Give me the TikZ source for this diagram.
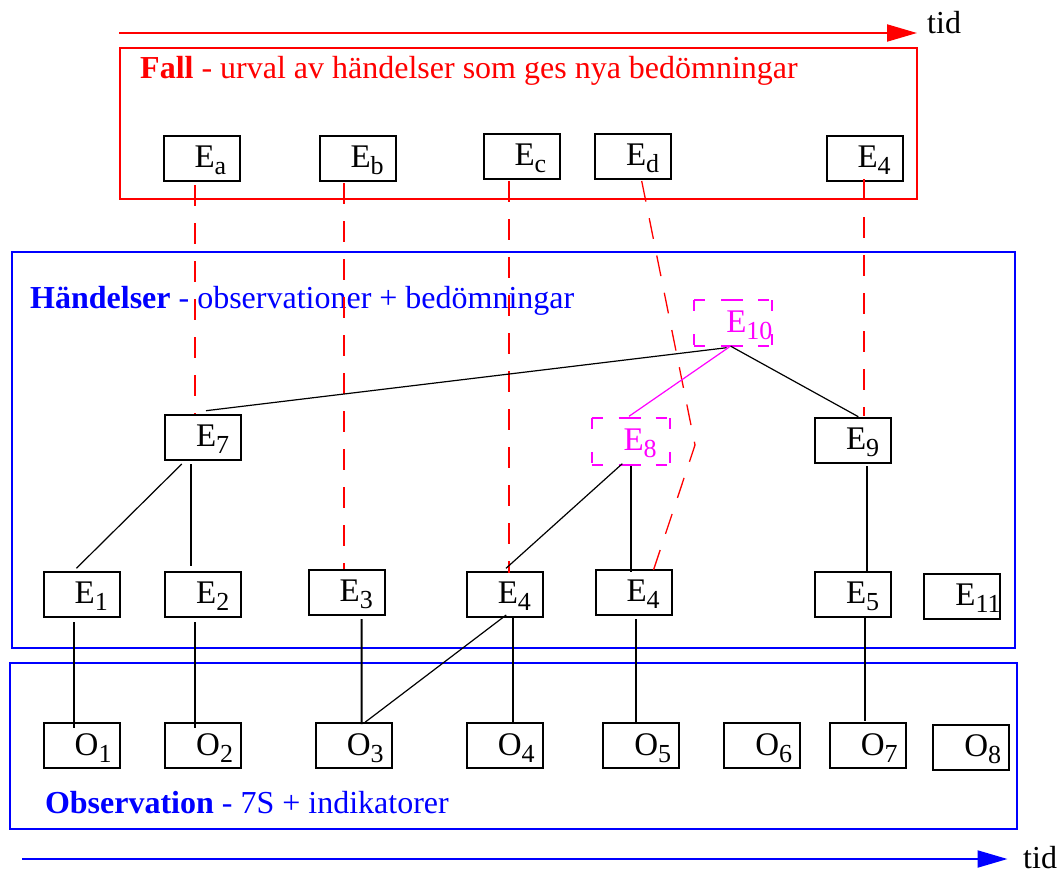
\documentclass[tikz,border=0pt]{standalone}
\usepackage{fontspec}
\setmainfont{Liberation Serif}
\usetikzlibrary{arrows.meta,calc}
\definecolor{pred}{RGB}{255,0,0}
\definecolor{pblue}{RGB}{0,0,255}
\definecolor{pmag}{RGB}{255,0,255}
\newcommand{\sbs}[1]{\raisebox{-7pt}{\fontsize{26}{26}\selectfont #1}}
\newcommand{\lbl}[2]{\hspace*{31pt}#1\sbs{#2}}
\begin{document}
\begin{tikzpicture}[x=1pt,y=-1pt,
  ebox/.style={draw=black, line width=2pt, rectangle, minimum width=76pt, minimum height=45pt,
    inner sep=0pt, text width=76pt, align=left, text height=26pt, text depth=7.5pt,
    font=\fontsize{33}{37}\selectfont},
  mbox/.style={ebox, draw=none, text=pmag, minimum height=44pt},
  hdash/.style={draw=pmag, line width=2pt, dash pattern=on 11pt off 16pt on 22pt off 15pt on 11pt off 30pt},
  vdash/.style={draw=pmag, line width=2pt, dash pattern=on 11pt off 23pt on 11pt off 30pt},
  frame/.style={rectangle, line width=2pt, inner sep=0pt},
  maintext/.style={anchor=base west, inner sep=0pt, font=\fontsize{32}{36}\selectfont},
  vline/.style={draw=black, line width=1.8pt},
  dline/.style={draw=black, line width=1.2pt},
  reddash/.style={draw=pred, line width=2pt, dash pattern=on 21pt off 17pt},
  timearrow/.style={line width=2pt, -{Triangle[length=30pt,width=17pt]}}
]
\useasboundingbox (0,0) rectangle (1064,875);

% frames
\node[frame, draw=pred, minimum width=796.5pt, minimum height=150.5pt] (fall) at (518.25,123.25) {};
\node[frame, draw=pblue, minimum width=1003pt, minimum height=395.7pt] (hand) at (513.5,449.85) {};
\node[frame, draw=pblue, minimum width=1006.9pt, minimum height=166pt] (obs) at (513.05,745.7) {};

% frame titles
\node[maintext, text=pred] (falltext) at (140,78) {\textbf{Fall} - urval av händelser som ges nya bedömningar};
\node[maintext, text=pblue] (handtext) at (30,308.3) {\textbf{Händelser} - observationer + bedömningar};
\node[maintext, text=pblue] (obstext) at (44.8,813) {\textbf{Observation} - 7S + indikatorer};

% time arrows
\coordinate (ta) at (119,33);
\coordinate (tb) at (917,33);
\draw[timearrow, pred] (ta) -- (tb);
\node[maintext] (tidtop) at (927,33.3) {tid};
\coordinate (ba) at (22,859);
\coordinate (bb) at (1007.5,859);
\draw[timearrow, pblue] (ba) -- (bb);
\node[maintext] (tidbot) at (1023,868.5) {tid};

% Fall nodes
\node[ebox] (Ea) at (201.5,158.5) {\lbl{E}{a}};
\node[ebox] (Eb) at (357.5,158.5) {\lbl{E}{b}};
\node[ebox] (Ec) at (521.5,156.5) {\lbl{E}{c}};
\node[ebox] (Ed) at (633,156.5) {\lbl{E}{d}};
\node[ebox] (Et4) at (864.5,158.5) {\lbl{E}{4}};

% Händelser nodes
\node[mbox] (E10) at (733.3,323.2) {\lbl{E}{10}};
\node[mbox, minimum height=45pt] (E8) at (630.5,441.7) {\lbl{E}{8}};
\node[ebox] (E7) at (203,437) {\lbl{E}{7}};
\node[ebox] (E9) at (853,440.2) {\lbl{E}{9}};
\node[ebox] (E1) at (81.7,594.2) {\lbl{E}{1}};
\node[ebox] (E2) at (203.2,594.2) {\lbl{E}{2}};
\node[ebox] (E3) at (346.7,592.3) {\lbl{E}{3}};
\node[ebox] (E4a) at (504.8,594.2) {\lbl{E}{4}};
\node[ebox] (E4b) at (633.5,592.2) {\lbl{E}{4}};
\node[ebox] (E5) at (853,594.5) {\lbl{E}{5}};
\node[ebox] (E11) at (962.4,596.4) {\lbl{E}{11}};

% dashed magenta outlines
\foreach \n in {E10,E8}{
  \draw[hdash] (\n.north west) -- (\n.north east);
  \draw[hdash] (\n.south west) -- (\n.south east);
  \draw[vdash] (\n.north west) -- (\n.south west);
  \draw[vdash] (\n.north east) -- (\n.south east);
}

% Observation nodes
\node[ebox] (O1) at (81.7,745.8) {\lbl{O}{1}};
\node[ebox] (O2) at (203.2,745.8) {\lbl{O}{2}};
\node[ebox] (O3) at (353.8,745.8) {\lbl{O}{3}};
\node[ebox] (O4) at (504.8,745.8) {\lbl{O}{4}};
\node[ebox] (O5) at (641.3,745.8) {\lbl{O}{5}};
\node[ebox] (O6) at (762.3,745.8) {\lbl{O}{6}};
\node[ebox] (O7) at (867.8,745.8) {\lbl{O}{7}};
\node[ebox] (O8) at (971.4,747.7) {\lbl{O}{8}};

% red dashed correspondence lines
\draw[reddash] ([xshift=-6.5pt,yshift=-3pt]Ea.south) -- ([xshift=-8pt]E7.north);
\draw[reddash] ([xshift=-13.5pt,yshift=-1pt]Eb.south) -- ([xshift=-2.7pt]E3.north);
\draw[reddash] ([xshift=-12.5pt,yshift=-1pt]Ec.south) -- ([xshift=4.2pt,yshift=-2.3pt]E4a.north);
\coordinate (kink) at (695,445);
\draw[reddash, line width=1.3pt] ([xshift=8.7pt,yshift=-1pt]Ed.south) -- (kink) -- ([xshift=19pt,yshift=-4.3pt]E4b.north);
\draw[reddash] ([xshift=-0.5pt,yshift=3pt]Et4.south) -- ([xshift=11pt,yshift=0.7pt]E9.north);

% hierarchy lines
\draw[dline] ([xshift=-6.6pt,yshift=-1.5pt]E10.south) -- ([xshift=3pt,yshift=2.8pt]E7.north);
\draw[dline] ([xshift=-2.6pt]E10.south) -- ([xshift=5.3pt]E9.north);
\draw[dline, draw=pmag] ([xshift=-4pt,yshift=-0.8pt]E10.south) -- ([xshift=-1.5pt,yshift=1.9pt]E8.north);
\draw[dline] ([xshift=-21.2pt,yshift=-3.5pt]E7.south) -- ([xshift=-5.3pt,yshift=2.4pt]E1.north);
\draw[vline] ([xshift=-12pt,yshift=-3.5pt]E7.south) -- ([xshift=-12.2pt,yshift=4.7pt]E2.north);
\draw[dline] ([xshift=-8.2pt,yshift=1.5pt]E8.south) -- ([xshift=1.2pt,yshift=2.4pt]E4a.north);
\draw[vline] ([xshift=0.5pt,yshift=-0.8pt]E8.south) -- ([xshift=-2.5pt,yshift=-3pt]E4b.north);
\draw[vline] ([xshift=14pt,yshift=-2.6pt]E9.south) -- ([xshift=14pt]E5.north);

% event to observation lines
\draw[vline] ([xshift=-7.7pt,yshift=-4.3pt]E1.south) -- ([xshift=-7.7pt,yshift=-5.4pt]O1.north);
\draw[vline] ([xshift=-8.2pt,yshift=-4.3pt]E2.south) -- ([xshift=-8.2pt,yshift=-5.4pt]O2.north);
\draw[vline] ([xshift=14.9pt,yshift=-3.2pt]E3.south) -- ([xshift=7.8pt,yshift=-1.7pt]O3.north);
\draw[dline] ([xshift=1.4pt,yshift=2.7pt]E4a.south) -- ([xshift=11.2pt]O3.north);
\draw[vline] ([xshift=8.2pt,yshift=0.7pt]E4a.south) -- ([xshift=8.2pt,yshift=0.6pt]O4.north);
\draw[vline] ([xshift=2.5pt,yshift=-3.3pt]E4b.south) -- ([xshift=-5.3pt,yshift=-1.7pt]O5.north);
\draw[vline] ([xshift=12pt]E5.south) -- ([xshift=-2.8pt,yshift=1.6pt]O7.north);
\end{tikzpicture}
\end{document}
